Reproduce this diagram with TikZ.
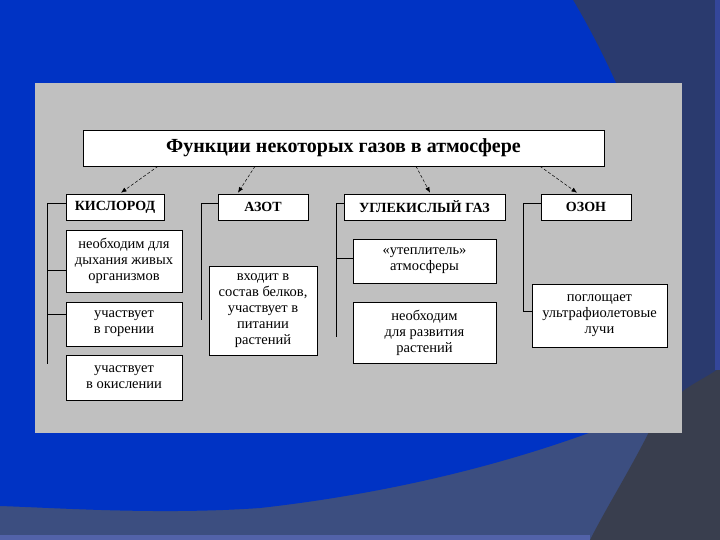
\documentclass[tikz,border=0pt]{standalone}
\usepackage{fontspec}
\setmainfont{Liberation Serif}
\usetikzlibrary{positioning,arrows.meta}
\definecolor{slideblue}{RGB}{0,51,196}
\definecolor{slidenavy}{RGB}{42,58,110}
\definecolor{slideslate}{RGB}{60,78,128}
\definecolor{slidedark}{RGB}{57,62,78}
\definecolor{slidestrip}{RGB}{52,70,154}
\definecolor{panelgray}{RGB}{192,192,192}

\begin{document}
\begin{tikzpicture}[x=1pt, y=-1pt,
    gasbox/.style={draw, fill=white, line width=0.6pt, inner sep=0pt, align=center,
      minimum height=26pt, font=\fontsize{14}{16}\selectfont\bfseries},
    notebox/.style={draw, fill=white, line width=0.6pt, inner sep=0pt, align=center,
      font=\fontsize{14.5}{16}\selectfont},
    feed/.style={densely dashed, line width=0.5pt, -{Latex[length=5.5pt,width=4.5pt]}},
    rail/.style={line width=0.6pt}]
    \useasboundingbox (0,0) rectangle (720,540);
    % slide background
    \fill[slideslate] (0,0) rectangle (720,540);
    \fill[slidenavy] (560,0) rectangle (720,433);
    \fill[slideblue] (0,0) -- (573,0) .. controls (650,130) and (700,300) .. (670,400)
      .. controls (560,450) and (420,490) .. (260,508)
      .. controls (160,515) and (60,508) .. (0,506) -- cycle;
    \fill[slidedark] (720,368) .. controls (705,378) and (690,385) .. (682,392)
      -- (650,430) .. controls (630,470) and (605,510) .. (590,540) -- (720,540) -- cycle;
    \fill[slidestrip] (715,0) rectangle (720,370);
    \fill[slidestrip!85!white] (0,535) rectangle (590,540);
    \fill[panelgray] (35,83) rectangle (682,433);

    % title and gases
    \node[notebox, minimum width=521pt, minimum height=36pt,
      font=\fontsize{20}{22}\selectfont\bfseries] (title) at (343.5,148)
      {Функции некоторых газов в атмосфере};
    \node[gasbox, minimum width=98pt] (oxygen) at (115,207) {КИСЛОРОД};
    \node[gasbox, minimum width=90pt] (nitrogen) at (263,207) {АЗОТ};
    \node[gasbox, minimum width=161pt] (carbon) at (424.5,207) {УГЛЕКИСЛЫЙ ГАЗ};
    \node[gasbox, minimum width=90pt] (ozone) at (586,207) {ОЗОН};

    % functions
    \node[notebox, minimum width=116pt, minimum height=62pt] (breath) at (124,261)
      {необходим для\\дыхания живых\\организмов};
    \node[notebox, minimum width=116pt, minimum height=44pt] (burn) at (124,324)
      {участвует\\в горении};
    \node[notebox, minimum width=116pt, minimum height=45pt] (oxid) at (124,377.5)
      {участвует\\в окислении};
    \node[notebox, minimum width=108pt, minimum height=89pt] (protein) at (263,310.5)
      {входит в\\состав белков,\\участвует в\\питании\\растений};
    \node[notebox, minimum width=143pt, minimum height=44pt] (warm) at (424.5,261)
      {«утеплитель»\\атмосферы};
    \node[notebox, minimum width=143pt, minimum height=61pt] (growth) at (424.5,332.5)
      {необходим\\для развития\\растений};
    \node[notebox, minimum width=135pt, minimum height=63pt] (uv) at (599.5,315.5)
      {поглощает\\ультрафиолетовые\\лучи};

    % side rails
    \coordinate (oxyend) at (47,364);
    \coordinate (nitend) at (201,320);
    \coordinate (carbend) at (336,337);
    \coordinate (ozend) at (523,311);
    \coordinate (breathtick) at ([yshift=-9pt]breath.west);
    \coordinate (burntick) at ([yshift=10pt]burn.west);
    \coordinate (warmtick) at ([yshift=3pt]warm.west);
    \draw[rail] ([yshift=4pt]oxygen.west) -| (oxyend);
    \draw[rail] (breathtick) -- (breathtick -| oxyend);
    \draw[rail] (burntick) -- (burntick -| oxyend);
    \draw[rail] ([yshift=4pt]nitrogen.west) -| (nitend);
    \draw[rail] ([yshift=4pt]carbon.west) -| (carbend);
    \draw[rail] (warmtick) -- (warmtick -| carbend);
    \draw[rail] ([yshift=4pt]ozone.west) -| (ozend) -- ([yshift=4.5pt]uv.west);

    % arrows from the title
    \foreach \dx/\gas/\dt in {-185.5/oxygen/6, -88.5/nitrogen/-25, 72.5/carbon/5.5, 196.5/ozone/-9}
      \draw[feed] ([xshift=\dx pt]title.south) -- ([xshift=\dt pt, yshift=1pt]\gas.north);
\end{tikzpicture}
\end{document}
